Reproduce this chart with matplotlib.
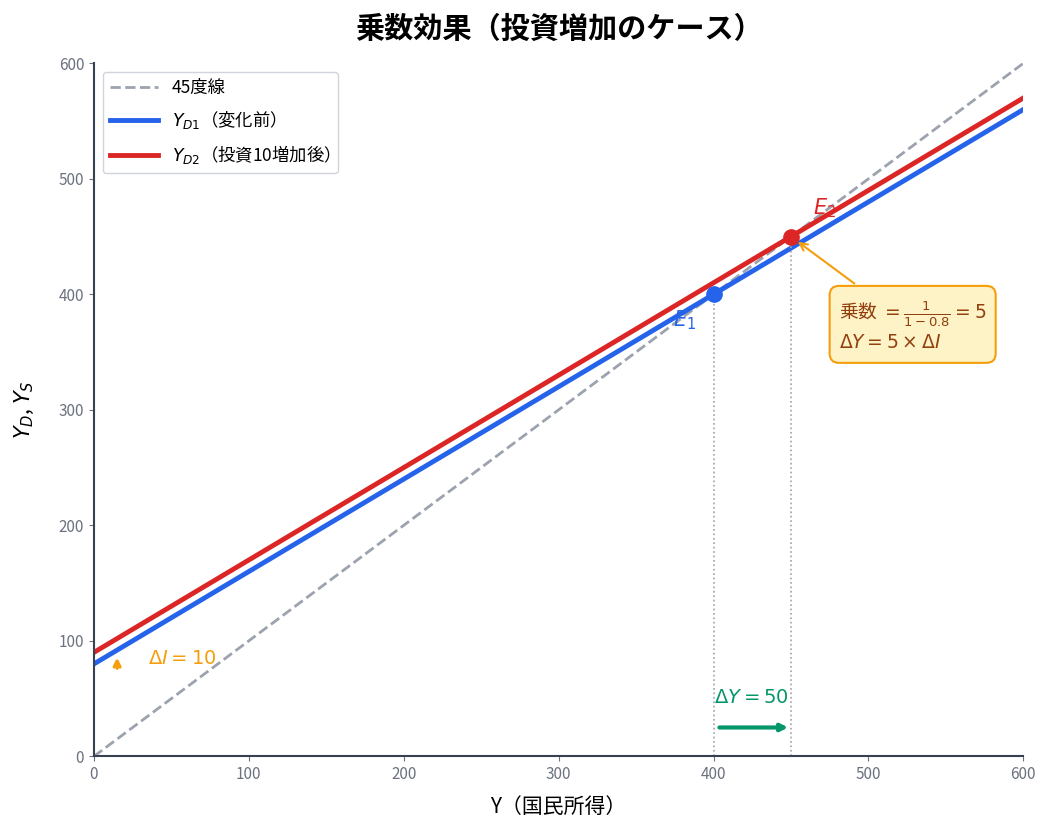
import matplotlib.pyplot as plt

plt.rcParams['font.family'] = ['Noto Sans CJK JP', 'DejaVu Sans']

# データ
y_range = [0, 600]
line45 = [0, 600]
yd1 = [80, 560]    # 変化前 (80 + 0.8Y)
yd2 = [90, 570]    # 投資10増加後 (90 + 0.8Y)
e1 = (400, 400)
e2 = (450, 450)
xticks = [0, 100, 200, 300, 400, 500, 600]
yticks = [0, 100, 200, 300, 400, 500, 600]

fig, ax = plt.subplots(figsize=(10.55, 8.33), dpi=100)
fig.subplots_adjust(left=0.089, right=0.970, top=0.924, bottom=0.092)

ax.plot(y_range, line45, '--', color='#9ca3af', lw=2, label='45度線')
ax.plot(y_range, yd1, color='#2563eb', lw=3.5, label='$Y_{D1}$（変化前）')
ax.plot(y_range, yd2, color='#dc2626', lw=3.5, label='$Y_{D2}$（投資10増加後）')

# 均衡点
ax.plot(*e1, 'o', color='#2563eb', ms=11, zorder=5)
ax.plot(*e2, 'o', color='#dc2626', ms=11, zorder=5)
ax.text(e1[0] - 26, e1[1] - 28, '$E_1$', color='#2563eb', fontsize=15)
ax.text(e2[0] + 14, e2[1] + 19, '$E_2$', color='#dc2626', fontsize=15)

# 補助線
ax.plot([e1[0], e1[0]], [0, e1[1]], ':', color='#9ca3af', lw=1.2)
ax.plot([e2[0], e2[0]], [0, e2[1]], ':', color='#9ca3af', lw=1.2)

# ΔI
ax.annotate('', xy=(15, 88), xytext=(15, 74),
            arrowprops=dict(arrowstyle='->', color='#f59e0b', lw=2.5))
ax.text(35, 85, r'$\Delta I = 10$', color='#f59e0b', fontsize=14, va='center')

# ΔY
ax.annotate('', xy=(e2[0], 25), xytext=(e1[0] + 2, 25),
            arrowprops=dict(arrowstyle='->', color='#059669', lw=3))
ax.text(e1[0], 51, r'$\Delta Y = 50$', color='#059669', fontsize=14, va='center')

# 乗数の説明
ax.annotate('乗数 $=\\frac{1}{1-0.8}=5$\n$\\Delta Y = 5\\times\\Delta I$',
            xy=(e2[0] + 3, e2[1] - 3), xytext=(481, 372),
            fontsize=13.5, color='#92400e', va='center',
            bbox=dict(boxstyle='round,pad=0.5', fc='#fef3c7', ec='#f59e0b', lw=1.5),
            arrowprops=dict(arrowstyle='->', color='#f59e0b', lw=1.5))

ax.set_xlim(0, 600)
ax.set_ylim(0, 600)
ax.set_xticks(xticks)
ax.set_yticks(yticks)
ax.tick_params(colors='#6b7280', labelsize=11)
for s in ['top', 'right']:
    ax.spines[s].set_visible(False)
for s in ['left', 'bottom']:
    ax.spines[s].set_color('#374151')
    ax.spines[s].set_linewidth(1.5)

ax.set_xlabel('Y（国民所得）', fontsize=15, labelpad=9)
ax.set_ylabel('$Y_D$, $Y_S$', fontsize=15, labelpad=16)
ax.set_title('乗数効果（投資増加のケース）', fontsize=21, fontweight='bold', pad=18)
ax.legend(loc='upper left', fontsize=12.5, framealpha=1, edgecolor='#d1d5db',
          handlelength=2.8, labelspacing=0.7)

plt.savefig('out.png', dpi=100)
